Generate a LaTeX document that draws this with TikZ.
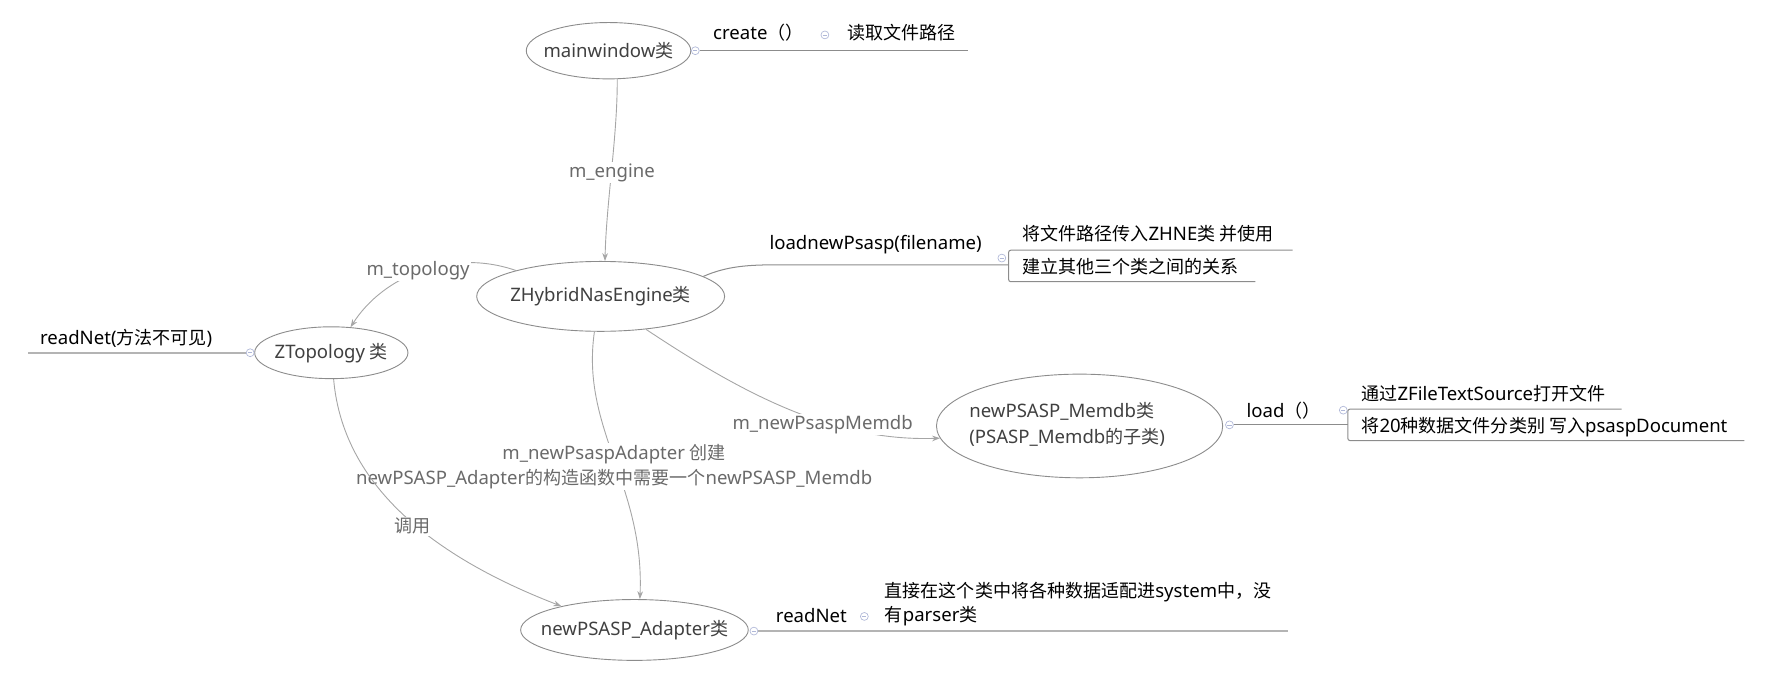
\documentclass[tikz,border=0pt]{standalone}
\usepackage{fontspec}
\setmainfont{Noto Sans}[Scale=1.03]
\newfontfamily\cjk{Noto Sans CJK SC}
\newcommand\zh[1]{{\cjk #1}}
\usetikzlibrary{shapes.geometric,arrows.meta}
\definecolor{ellc}{HTML}{8C8C8C}
\definecolor{clstxt}{HTML}{404040}
\definecolor{edgec}{HTML}{A6A6A6}
\definecolor{labc}{HTML}{6A6A6A}
\definecolor{brc}{HTML}{8C8C8C}
\definecolor{thickc}{HTML}{B4B4B4}
\definecolor{iconc}{HTML}{B0B8D8}
\tikzset{
  cls/.style={ellipse, draw=ellc, line width=0.8pt, inner sep=0pt, text=clstxt, fill=white},
  elab/.style={fill=white, inner sep=1pt, text=labc},
  br/.style={inner sep=2pt, text=black},
  icon/.style={circle, draw=iconc, fill=white, line width=0.6pt, minimum size=7pt, inner sep=0pt,
    path picture={\draw[iconc, line width=0.6pt] ([xshift=-1.8pt]path picture bounding box.center) -- ([xshift=1.8pt]path picture bounding box.center);}},
  edge/.style={draw=edgec, line width=0.8pt, -{Stealth[length=7pt,width=5pt]}},
  bline/.style={draw=brc, line width=0.9pt},
  sline/.style={draw=brc, line width=0.9pt, rounded corners=2pt},
  tline/.style={draw=thickc, line width=1.4pt}
}
\begin{document}
\begin{tikzpicture}[x=1pt,y=-1pt, font=\fontsize{16}{22}\selectfont]
\useasboundingbox (0,0) rectangle (1568,604.3);

% class ellipses
\node[cls, minimum width=146pt, minimum height=50pt] (mw) at (540,45) {\makebox[0pt]{mainwindow\zh{类}}};
\node[cls, minimum width=220pt, minimum height=62pt] (zh) at (533,263) {\makebox[0pt]{ZHybridNasEngine\zh{类}}};
\node[cls, minimum width=136pt, minimum height=46pt] (zt) at (294,313) {\makebox[0pt]{ZTopology \zh{类}}};
\node[cls, minimum width=254pt, minimum height=92pt] (md) at (958,378) {\makebox[0pt]{\hspace*{-22pt}\begin{tabular}{@{}l@{}}newPSASP\_Memdb\zh{类}\\[1pt](PSASP\_Memdb\zh{的子类})\end{tabular}}};
\node[cls, minimum width=202pt, minimum height=54pt] (ad) at (563,559) {\makebox[0pt]{newPSASP\_Adapter\zh{类}}};

% mainwindow branch
\node[icon] (i1) at (617,45) {};
\draw[bline] (i1.east) -- (859,45);
\node[br] (cr) at (673,29) {create\zh{（）}};
\node[icon] (i2) at (732,31) {};
\node[br] (rd) at (800,29) {\zh{读取文件路径}};

% loadnewPsasp branch
\draw[bline] (zh.11) .. controls (645,236) and (665,235) .. (690,235) -- (895,235);
\node[br] (lp) at (777,217) {loadnewPsasp(filename)};
\node[icon] (i3) at (889,229) {};
\draw[sline] (1147,222) -- (895,222) -- (895,250) -- (1114,250);
\node[br, anchor=west] (s1) at (905,207) {\zh{将文件路径传入}ZHNE\zh{类 并使用}};
\node[br, anchor=west] (s2) at (905,237) {\zh{建立其他三个类之间的关系}};

% ZTopology branch
\node[icon] (i4) at (222,313) {};
\draw[tline] (i4.west) -- (25,313);
\node[br] (rn) at (112,300) {readNet(\zh{方法不可见})};

% Memdb branch
\node[icon] (i5) at (1091,377) {};
\draw[bline] (i5.east) -- (1196,377);
\node[br] (ld) at (1139,364) {load\zh{（）}};
\node[icon] (i6) at (1192,364) {};
\draw[sline] (1439,363) -- (1196,363) -- (1196,391) -- (1548,391);
\node[br, anchor=west] (s3) at (1206,349) {\zh{通过}ZFileTextSource\zh{打开文件}};
\node[br, anchor=west] (s4) at (1206,379) {\zh{将}20\zh{种数据文件分类别 写入}psaspDocument};

% Adapter branch
\node[icon] (i7) at (669,560) {};
\draw[tline] (i7.east) -- (1143,560);
\node[br] (rn2) at (720,546) {readNet};
\node[icon] (i8) at (767,547) {};
\node[br, anchor=west, align=left] (s5) at (783,536) {\zh{直接在这个类中将各种数据适配进}system\zh{中，没}\\\zh{有}parser\zh{类}};

% relations
\draw[edge] (mw.-73) .. controls (548,120) and (538,180) .. (zh.83);
\node[elab] (l1) at (543,153) {m\_engine};
\draw[edge] (zh.163) .. controls (400,220) and (340,245) .. (zt.53);
\node[elab] (l2) at (371,240) {m\_topology};
\draw[edge] (zh.-36) .. controls (660,350) and (740,392) .. (md.185);
\node[elab] (l3) at (730,377) {m\_newPsaspMemdb};
\draw[edge] (zh.-100) .. controls (515,380) and (572,430) .. (ad.80);
\node[elab, align=center] (l4) at (545,414) {m\_newPsaspAdapter \zh{创建}\\newPSASP\_Adapter\zh{的构造函数中需要一个}newPSASP\_Memdb};
\draw[edge] (zt.-85) .. controls (305,440) and (400,500) .. (ad.162);
\node[elab] (l5) at (366,467) {\zh{调用}};
\end{tikzpicture}
\end{document}
